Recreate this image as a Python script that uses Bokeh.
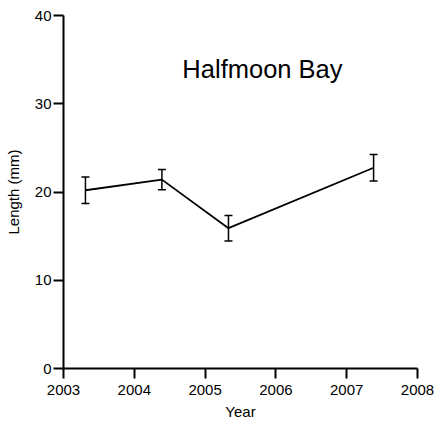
from bokeh.plotting import figure
from bokeh.models import ColumnDataSource, Whisker, TeeHead, Label, FixedTicker
from bokeh.embed import file_html
from bokeh.resources import INLINE

# Mean length per sampling occasion, with error (± half-range)
years = [2003.31, 2004.39, 2005.33, 2007.38]
length_mm = [20.2, 21.4, 15.9, 22.75]
err_mm = [1.5, 1.15, 1.45, 1.5]

x_ticks = [2003, 2004, 2005, 2006, 2007, 2008]
y_ticks = [0, 10, 20, 30, 40]
site = "Halfmoon Bay"

FONT = "Liberation Sans"

src = ColumnDataSource(dict(
    x=years,
    y=length_mm,
    lower=[v - e for v, e in zip(length_mm, err_mm)],
    upper=[v + e for v, e in zip(length_mm, err_mm)],
))

p = figure(width=434, height=421, frame_width=354, frame_height=353,
           output_backend="svg", toolbar_location=None,
           x_range=(2003, 2008), y_range=(0, 40),
           min_border_left=63, min_border_right=17,
           min_border_top=15, min_border_bottom=53)

p.outline_line_color = None
p.xgrid.visible = False
p.ygrid.visible = False
p.background_fill_color = "white"
p.border_fill_color = "white"

p.line("x", "y", source=src, line_color="black", line_width=1.8)

w = Whisker(source=src, base="x", lower="lower", upper="upper",
            line_color="black", line_width=1.5,
            upper_head=TeeHead(size=8, line_color="black", line_width=1.5),
            lower_head=TeeHead(size=8, line_color="black", line_width=1.5))
p.add_layout(w)

for ax in (p.xaxis[0], p.yaxis[0]):
    ax.axis_line_width = 2
    ax.axis_line_color = "black"
    ax.major_tick_line_width = 2
    ax.major_tick_line_color = "black"
    ax.major_tick_out = 10
    ax.major_tick_in = 0
    ax.minor_tick_line_color = None
    ax.major_label_text_font = FONT
    ax.major_label_text_font_size = "15px"
    ax.major_label_text_color = "black"
    ax.axis_label_text_font = FONT
    ax.axis_label_text_font_size = "15px"
    ax.axis_label_text_font_style = "normal"
    ax.axis_label_text_color = "black"

p.xaxis.ticker = FixedTicker(ticks=x_ticks)
p.yaxis.ticker = FixedTicker(ticks=y_ticks)
p.xaxis.axis_label = "Year"
p.yaxis.axis_label = "Length (mm)"
p.xaxis.major_label_standoff = 6
p.xaxis.axis_label_standoff = 5
p.yaxis.major_label_standoff = 2
p.yaxis.axis_label_standoff = 10

p.add_layout(Label(x=2005.81, y=33.9, text=site, text_align="center",
                   text_baseline="alphabetic", text_font=FONT,
                   text_font_size="25.5px", text_color="black"))

open("out.html", "w").write(file_html(p, INLINE))
